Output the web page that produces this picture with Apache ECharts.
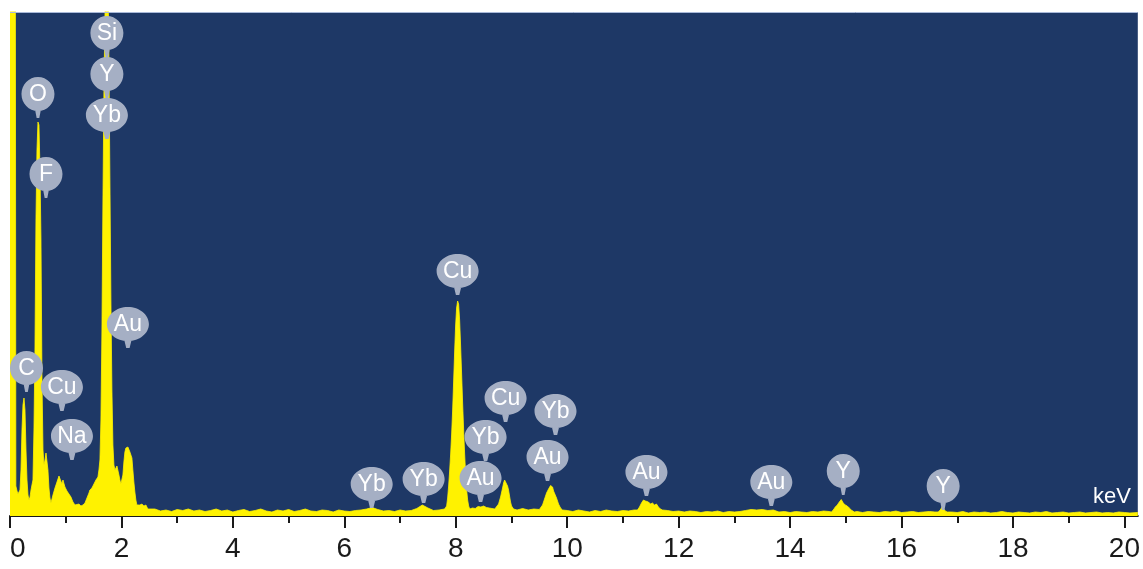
<!DOCTYPE html>
<html>
<head>
<meta charset="utf-8">
<script src="https://cdn.jsdelivr.net/npm/echarts@6/dist/echarts.min.js"></script>
<style>
html,body{margin:0;padding:0;background:#ffffff;}
#chart{width:1143px;height:569px;}
</style>
</head>
<body>
<div id="chart"></div>
<script>
// ---- data ----
const majorTicks = [0, 2, 4, 6, 8, 10, 12, 14, 16, 18, 20];
const minorTicks = [1, 3, 5, 7, 9, 11, 13, 15, 17, 19];

// EDS spectrum, [energy keV, counts]
const lowEnergyRegion = [
  [0, 9000], [0.09, 9000], [0.105, 300], [0.126, 250], [0.143, 220], [0.161, 200], [0.179, 260],
  [0.197, 460], [0.215, 860], [0.233, 1110], [0.251, 1180], [0.269, 1060], [0.287, 660], [0.305, 360],
  [0.323, 210], [0.341, 160], [0.359, 190], [0.377, 260], [0.394, 310], [0.412, 360], [0.430, 860],
  [0.448, 1660], [0.466, 2960], [0.484, 3660], [0.502, 3940], [0.520, 3910], [0.538, 3460], [0.556, 2760],
  [0.574, 1360], [0.592, 660], [0.610, 510], [0.628, 560], [0.646, 630], [0.663, 610], [0.681, 460],
  [0.699, 280], [0.717, 180], [0.735, 130], [0.753, 140], [0.771, 210], [0.807, 280], [0.843, 340],
  [0.879, 400], [0.897, 410], [0.914, 380], [0.932, 320], [0.950, 360], [0.986, 290], [1.022, 250],
  [1.058, 220], [1.094, 190], [1.130, 140], [1.166, 110], [1.201, 100], [1.237, 120], [1.273, 100],
  [1.309, 110], [1.345, 130], [1.381, 180], [1.417, 230], [1.434, 260], [1.470, 280], [1.506, 320],
  [1.542, 360], [1.578, 390], [1.596, 460], [1.614, 560], [1.632, 960], [1.650, 1860], [1.668, 3160],
  [1.686, 4260], [1.703, 4960], [1.721, 5600], [1.739, 5900], [1.757, 5500], [1.775, 4560], [1.793, 3360],
  [1.811, 2160], [1.829, 1260], [1.847, 710], [1.865, 510], [1.883, 460], [1.901, 480], [1.919, 500],
  [1.937, 480], [1.955, 410], [1.972, 360], [1.990, 320], [2.008, 330], [2.026, 410], [2.044, 540],
  [2.062, 640], [2.080, 680], [2.098, 700], [2.116, 690], [2.134, 680], [2.152, 640], [2.170, 660],
  [2.188, 580], [2.205, 460], [2.223, 340], [2.241, 240], [2.259, 160], [2.277, 110], [2.295, 100],
  [2.331, 110], [2.367, 120], [2.403, 100], [2.439, 110], [2.474, 70]
];
const midEnergyRegion = [
  [2.5, 60], [2.6, 70], [2.7, 50], [2.8, 60], [2.9, 45], [3.0, 65], [3.1, 55], [3.2, 70], [3.3, 50],
  [3.4, 60], [3.5, 45], [3.6, 55], [3.7, 70], [3.8, 50], [3.9, 60], [4.0, 40], [4.1, 55], [4.2, 65],
  [4.3, 45], [4.4, 55], [4.5, 70], [4.6, 50], [4.7, 40], [4.8, 60], [4.9, 50], [5.0, 65], [5.1, 45],
  [5.2, 55], [5.3, 70], [5.4, 50], [5.5, 45], [5.6, 60], [5.7, 55], [5.8, 40], [5.9, 60], [6.0, 50],
  [6.1, 45], [6.2, 55], [6.3, 60], [6.4, 70], [6.5, 85], [6.6, 65], [6.7, 50], [6.8, 55], [6.9, 45],
  [7.0, 60], [7.1, 50], [7.2, 55], [7.3, 75], [7.4, 110], [7.5, 80], [7.6, 55], [7.7, 60], [7.8, 70],
  [7.836, 100], [7.854, 180], [7.872, 300], [7.890, 450], [7.908, 620], [7.926, 820], [7.944, 1060],
  [7.962, 1350], [7.980, 1650], [7.997, 1900], [8.015, 2080], [8.033, 2150], [8.051, 2120], [8.069, 1960],
  [8.087, 1700], [8.105, 1420], [8.123, 1130], [8.141, 860], [8.159, 620], [8.177, 420], [8.195, 260],
  [8.213, 160], [8.231, 100], [8.25, 70], [8.3, 80], [8.35, 75], [8.4, 95], [8.45, 90], [8.5, 100],
  [8.55, 85], [8.6, 80], [8.65, 75], [8.7, 70], [8.732, 70], [8.768, 120], [8.804, 190], [8.840, 280],
  [8.858, 330], [8.876, 360], [8.893, 370], [8.911, 340], [8.929, 300], [8.947, 260], [8.965, 200],
  [8.983, 140], [9.001, 100], [9.037, 70], [9.1, 60], [9.2, 75], [9.3, 60], [9.4, 70], [9.5, 65],
  [9.521, 70], [9.557, 110], [9.593, 170], [9.629, 230], [9.665, 270], [9.683, 290], [9.701, 305],
  [9.719, 310], [9.737, 290], [9.755, 250], [9.773, 230], [9.808, 180], [9.844, 120], [9.880, 80],
  [9.916, 60]
];
const highEnergyRegion = [
  [10.0, 55], [10.1, 45], [10.2, 60], [10.3, 50], [10.4, 40], [10.5, 55], [10.6, 45], [10.7, 60],
  [10.8, 50], [10.9, 45], [11.0, 55], [11.1, 50], [11.2, 60], [11.261, 60], [11.297, 90], [11.333, 130],
  [11.368, 160], [11.386, 170], [11.404, 150], [11.422, 130], [11.458, 140], [11.494, 120], [11.530, 130],
  [11.566, 110], [11.602, 120], [11.637, 90], [11.673, 70], [11.709, 60], [11.8, 55], [11.9, 45],
  [12.0, 50], [12.1, 40], [12.2, 50], [12.3, 45], [12.4, 35], [12.5, 45], [12.6, 40], [12.7, 50],
  [12.8, 35], [12.9, 45], [13.0, 40], [13.1, 45], [13.2, 55], [13.3, 65], [13.4, 60], [13.5, 65],
  [13.6, 55], [13.7, 60], [13.8, 40], [13.9, 45], [14.0, 35], [14.1, 45], [14.2, 40], [14.3, 35],
  [14.4, 45], [14.5, 40], [14.6, 50], [14.7, 45], [14.739, 40], [14.775, 60], [14.811, 90], [14.847, 110],
  [14.883, 140], [14.918, 165], [14.936, 160], [14.954, 130], [14.990, 110], [15.026, 100], [15.062, 80],
  [15.098, 60], [15.152, 40], [15.2, 45], [15.3, 35], [15.4, 45], [15.5, 40], [15.6, 35], [15.7, 45],
  [15.8, 40], [15.9, 50], [16.0, 35], [16.1, 40], [16.2, 45], [16.3, 35], [16.4, 40], [16.5, 45],
  [16.6, 40], [16.658, 40], [16.694, 60], [16.730, 93], [16.748, 85], [16.784, 50], [16.820, 40],
  [16.9, 40], [17.0, 35], [17.1, 45], [17.2, 30], [17.3, 40], [17.4, 35], [17.5, 40], [17.6, 30],
  [17.7, 35], [17.8, 45], [17.9, 35], [18.0, 30], [18.1, 40], [18.2, 35], [18.3, 30], [18.4, 40],
  [18.5, 35], [18.6, 45], [18.7, 30], [18.8, 35], [18.9, 40], [19.0, 30], [19.1, 35], [19.2, 40],
  [19.3, 30], [19.4, 35], [19.5, 40], [19.6, 30], [19.7, 35], [19.8, 30], [19.9, 40], [20.0, 35],
  [20.1, 30], [20.24, 35]
];

// element labels: name, energy (keV), counts at pin tip
const labelNames  = ['Si', 'Y', 'Yb', 'O', 'F', 'Au', 'C', 'Cu', 'Na', 'Cu', 'Cu', 'Yb', 'Yb', 'Au', 'Au', 'Yb', 'Yb', 'Au', 'Au', 'Y', 'Y'];
const labelEnergy = [1.739, 1.739, 1.739, 0.502, 0.646, 2.116, 0.296, 0.932, 1.112, 8.033, 8.894, 9.790, 8.535, 9.647, 8.445, 6.491, 7.423, 11.422, 13.663, 14.954, 16.747];
const labelCounts = [4590, 4180, 3770, 3980, 3180, 1680, 1240, 1050, 560, 2210, 940, 810, 550, 350, 140, 80, 130, 200, 100, 210, 60];

const X_MAX = 20.24;
const Y_MAX = 5040;

// ---- chart ----
const spectrum = lowEnergyRegion.concat(midEnergyRegion, highEnergyRegion);
const bubblePath = 'path://M50 0C77.6 0 100 17.9 100 40C100 62.1 77.6 80 50 80C22.4 80 0 62.1 0 40C0 17.9 22.4 0 50 0ZM40 72L60 72L54 96L46 96Z';
const wideNames = ['Yb', 'Au', 'Cu', 'Na'];
const bubbles = labelNames.map((n, i) => ({
  name: n,
  value: [labelEnergy[i], labelCounts[i]],
  symbolSize: [wideNames.indexOf(n) >= 0 ? 42 : 33, 41]
}));

const chart = echarts.init(document.getElementById('chart'), null, {renderer: 'canvas'});
chart.setOption({
  animation: false,
  backgroundColor: '#ffffff',
  grid: {
    left: 10, right: 4, top: 12, bottom: 53,
    show: true, backgroundColor: '#1e3866', borderWidth: 0
  },
  xAxis: [{
    type: 'value', position: 'bottom', min: 0, max: X_MAX, interval: 2,
    axisLine: {show: true, onZero: false, lineStyle: {color: '#1a1a1a', width: 2}},
    axisTick: {show: true, length: 12, lineStyle: {color: '#1a1a1a', width: 2}, customValues: majorTicks},
    axisLabel: {
      show: true, margin: 19, color: '#1a1a1a', fontSize: 28,
      fontFamily: '"Liberation Sans Narrow", "Liberation Sans", sans-serif',
      customValues: majorTicks, alignMinLabel: 'left'
    },
    splitLine: {show: false}
  }, {
    type: 'value', position: 'bottom', min: 0, max: X_MAX,
    axisLine: {show: false},
    axisTick: {show: true, length: 7, lineStyle: {color: '#1a1a1a', width: 2}, customValues: minorTicks},
    axisLabel: {show: false},
    splitLine: {show: false}
  }],
  yAxis: {
    type: 'value', min: 0, max: Y_MAX, show: false, splitLine: {show: false}
  },
  graphic: [{
    type: 'text', x: 1112, y: 497, z: 100,
    style: {text: 'keV', fill: '#ffffff', font: '22px "Liberation Sans", sans-serif', align: 'center', verticalAlign: 'middle'}
  }],
  series: [{
    type: 'line',
    data: spectrum,
    showSymbol: false,
    symbol: 'none',
    clip: true,
    lineStyle: {width: 0.8, color: '#fff200'},
    areaStyle: {color: '#fff200', opacity: 1},
    markLine: {
      silent: true, symbol: 'none', animation: false,
      label: {show: false},
      lineStyle: {color: '#a9b9d9', width: 1, type: 'solid'},
      data: [{yAxis: Y_MAX}]
    },
    z: 2
  }, {
    type: 'scatter',
    data: bubbles,
    symbol: bubblePath,
    symbolKeepAspect: false,
    symbolOffset: [0, '-50%'],
    itemStyle: {color: '#a5afc4', opacity: 1},
    label: {
      show: true, position: 'inside', formatter: '{b}', offset: [0, -3],
      color: '#ffffff', fontSize: 23, fontFamily: '"Liberation Sans", Arial, sans-serif'
    },
    emphasis: {disabled: true},
    clip: false,
    z: 5
  }]
});
</script>
</body>
</html>
